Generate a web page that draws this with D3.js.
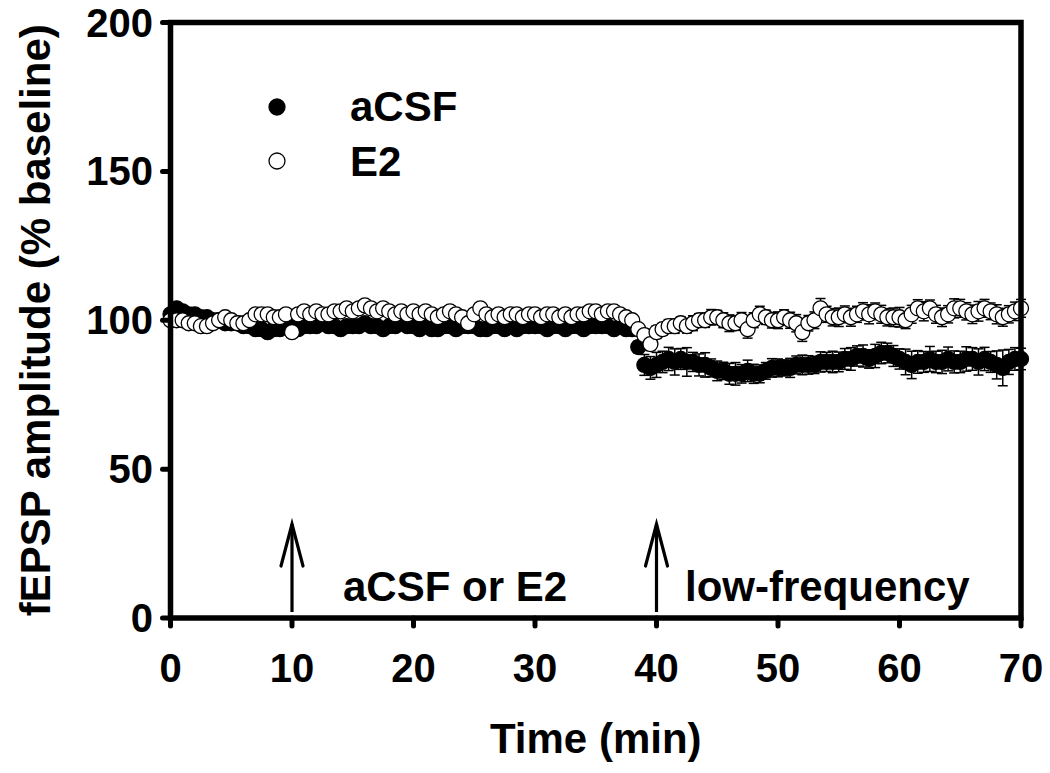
<!DOCTYPE html>
<html lang="en">
<head>
<meta charset="UTF-8">
<title>fEPSP amplitude</title>
<script src="https://d3js.org/d3.v7.min.js"></script>
<style>
    body { margin: 0; background: #fff; }
    text { font-family: Arial, "Liberation Sans", sans-serif; font-weight: bold; fill: #000; }
</style>
</head>
<body>
<script>
    // samples every 30 s, 0..70 min
    const sampleStep = 0.5;

    const acsfMean = [
        102, 104, 103, 102, 102, 101, 101, 100, 100, 99,
        99, 99, 98, 98, 97, 97, 96, 97, 97, 98,
        98, 97, 98, 98, 98, 99, 98, 98, 97, 98,
        98, 98, 99, 98, 98, 97, 98, 98, 99, 98,
        98, 97, 98, 97, 97, 98, 98, 97, 98, 98,
        98, 97, 97, 98, 98, 97, 98, 97, 98, 98,
        98, 98, 97, 98, 98, 97, 98, 98, 97, 98,
        98, 98, 98, 97, 98, 97, 97, 91, 85, 84,
        85, 86, 87, 86, 87, 86, 86, 85, 85, 84,
        83, 83, 82, 82, 82, 83, 82, 82, 83, 84,
        84, 84, 84, 85, 85, 85, 85, 86, 86, 86,
        86, 87, 87, 88, 88, 87, 88, 89, 89, 88,
        87, 86, 85, 86, 86, 87, 86, 86, 87, 86,
        86, 87, 87, 86, 87, 86, 85, 84, 86, 87,
        87
    ];
    const acsfSem = [
        1.5, 1.4, 1.3, 1.2, 1.2, 1.1, 1.0, 1.1, 1.0, 1.0,
        1.0, 1.1, 1.0, 0.9, 1.0, 1.1, 1.0, 1.0, 1.1, 1.0,
        1.0, 0.9, 1.0, 1.1, 1.0, 1.2, 1.0, 1.0, 0.9, 1.0,
        1.1, 1.0, 1.2, 1.0, 1.1, 1.0, 1.0, 0.9, 1.1, 1.0,
        1.0, 1.1, 1.0, 1.0, 0.9, 1.0, 1.1, 1.0, 1.0, 1.1,
        1.0, 1.0, 1.1, 1.0, 0.9, 1.0, 1.0, 1.1, 1.0, 1.0,
        1.1, 1.0, 1.0, 1.0, 1.1, 1.0, 0.9, 1.0, 1.0, 1.1,
        1.0, 1.0, 1.1, 1.0, 1.2, 1.0, 1.2, 2.0, 3.5, 3.8,
        4.2, 3.6, 3.9, 4.4, 3.5, 4.8, 3.2, 3.7, 4.1, 3.0,
        3.3, 2.9, 3.5, 3.8, 3.1, 3.6, 3.2, 3.0, 2.8, 3.1,
        3.0, 2.7, 3.2, 3.0, 3.3, 3.1, 2.9, 3.4, 3.2, 3.6,
        3.3, 3.5, 3.8, 3.4, 3.7, 3.1, 3.9, 3.6, 3.3, 3.5,
        3.4, 4.3, 4.6, 3.8, 3.5, 4.2, 3.6, 3.9, 4.0, 3.7,
        3.6, 4.1, 3.8, 4.4, 3.9, 3.5, 4.7, 6.0, 4.2, 3.8,
        3.6
    ];

    const e2Mean = [
        100, 100, 100, 99, 99, 98, 98, 99, 100, 101,
        100, 99, 99, 100, 102, 102, 102, 101, 101, 102,
        96, 102, 103, 102, 103, 102, 102, 103, 103, 104,
        103, 104, 105, 104, 103, 104, 103, 102, 103, 102,
        103, 102, 103, 102, 101, 102, 103, 102, 101, 99,
        102, 104, 102, 101, 102, 101, 102, 102, 101, 102,
        102, 101, 102, 102, 101, 102, 101, 102, 102, 103,
        103, 102, 103, 103, 102, 101, 100, 97, 95, 92,
        96, 97, 98, 98, 99, 98, 99, 100, 100, 101,
        101, 100, 99, 99, 100, 97, 100, 102, 101, 100,
        100, 101, 100, 99, 96, 99, 100, 104, 102, 101,
        101, 102, 101, 102, 103, 102, 103, 102, 101, 101,
        101, 100, 102, 104, 103, 104, 102, 101, 102, 104,
        104, 103, 102, 103, 104, 103, 102, 101, 102, 103,
        104
    ];
    const e2Sem = [
        1.2, 1.1, 1.0, 1.0, 1.1, 1.0, 0.9, 1.0, 1.0, 1.1,
        1.0, 1.0, 0.9, 1.0, 1.1, 1.0, 1.0, 1.1, 1.0, 1.0,
        1.6, 1.0, 1.1, 1.0, 1.0, 1.1, 1.0, 0.9, 1.0, 1.1,
        1.0, 1.2, 1.1, 1.0, 1.0, 1.1, 1.0, 1.0, 0.9, 1.0,
        1.1, 1.0, 1.0, 1.1, 1.0, 1.0, 1.1, 1.0, 1.0, 1.3,
        1.0, 1.1, 1.0, 1.0, 1.1, 1.0, 0.9, 1.0, 1.0, 1.1,
        1.0, 1.0, 1.1, 1.0, 1.0, 0.9, 1.0, 1.1, 1.0, 1.0,
        1.1, 1.0, 1.0, 1.1, 1.0, 1.2, 1.4, 1.8, 2.0, 2.2,
        2.1, 2.0, 2.2, 2.4, 2.1, 2.3, 2.5, 2.2, 2.4, 2.6,
        2.3, 2.5, 2.8, 2.4, 2.6, 3.0, 2.5, 2.7, 2.4, 2.6,
        2.8, 2.5, 2.7, 2.9, 3.1, 2.6, 2.8, 3.3, 2.7, 2.9,
        3.1, 2.8, 3.0, 2.7, 2.9, 3.2, 2.8, 3.0, 2.9, 3.1,
        3.3, 2.8, 3.0, 2.9, 3.2, 2.8, 3.0, 3.1, 2.9, 3.2,
        3.0, 2.9, 3.1, 3.3, 3.0, 2.8, 3.2, 3.0, 2.9, 3.1,
        3.0
    ];

    const xTicks = [0, 10, 20, 30, 40, 50, 60, 70];
    const yTicks = [0, 50, 100, 150, 200];
    const seriesNames = ["aCSF", "E2"];
    const arrowTimes = [10, 40];
    const arrowLabels = ["aCSF or E2", "low-frequency"];

    const width = 1050, height = 773;
    const margin = {top: 22.5, right: 29, bottom: 155, left: 170.5};

    const svg = d3.select("body").append("svg")
        .attr("width", width)
        .attr("height", height);

    const x = d3.scaleLinear().domain([0, 70]).range([margin.left, width - margin.right]);
    const y = d3.scaleLinear().domain([0, 200]).range([height - margin.bottom, margin.top]);

    const time = acsfMean.map((d, i) => i * sampleStep);

    const series = [
        {name: seriesNames[0], mean: acsfMean, sem: acsfSem, fill: "#000"},
        {name: seriesNames[1], mean: e2Mean, sem: e2Sem, fill: "#fff"}
    ];

    // error bars + markers
    series.forEach(function (s) {
        const pts = s.mean.map((m, i) => ({t: time[i], m: m, e: s.sem[i]}));
        const g = svg.append("g");
        const eb = g.selectAll("g.eb").data(pts).enter().append("g")
            .attr("stroke", "#000").attr("stroke-width", 1.5);
        eb.append("line")
            .attr("x1", d => x(d.t)).attr("x2", d => x(d.t))
            .attr("y1", d => y(d.m - d.e)).attr("y2", d => y(d.m + d.e));
        eb.append("line")
            .attr("x1", d => x(d.t) - 5).attr("x2", d => x(d.t) + 5)
            .attr("y1", d => y(d.m - d.e)).attr("y2", d => y(d.m - d.e));
        eb.append("line")
            .attr("x1", d => x(d.t) - 5).attr("x2", d => x(d.t) + 5)
            .attr("y1", d => y(d.m + d.e)).attr("y2", d => y(d.m + d.e));
        g.selectAll("circle").data(pts).enter().append("circle")
            .attr("cx", d => x(d.t))
            .attr("cy", d => y(d.m))
            .attr("r", 7.5)
            .attr("fill", s.fill)
            .attr("stroke", "#000")
            .attr("stroke-width", 1.3);
    });

    // frame
    const axisW = 5.5;
    svg.append("rect")
        .attr("x", x(0)).attr("y", y(200))
        .attr("width", x(70) - x(0)).attr("height", y(0) - y(200))
        .attr("fill", "none").attr("stroke", "#000").attr("stroke-width", axisW);

    // ticks
    svg.selectAll("line.xt").data(xTicks).enter().append("line")
        .attr("x1", d => x(d)).attr("x2", d => x(d))
        .attr("y1", y(0)).attr("y2", y(0) + 8)
        .attr("stroke", "#000").attr("stroke-width", 5).attr("stroke-linecap", "round");
    svg.selectAll("line.yt").data(yTicks).enter().append("line")
        .attr("x1", x(0) - 8).attr("x2", x(0))
        .attr("y1", d => y(d)).attr("y2", d => y(d))
        .attr("stroke", "#000").attr("stroke-width", 5).attr("stroke-linecap", "round");

    svg.selectAll("text.xl").data(xTicks).enter().append("text")
        .attr("x", d => x(d)).attr("y", 682)
        .attr("text-anchor", "middle").attr("font-size", 40)
        .text(d => d);
    svg.selectAll("text.yl").data(yTicks).enter().append("text")
        .attr("x", 153).attr("y", d => y(d) + 14)
        .attr("text-anchor", "end").attr("font-size", 40)
        .text(d => d);

    // axis titles
    svg.append("text")
        .attr("x", (x(0) + x(70)) / 2).attr("y", 753)
        .attr("text-anchor", "middle").attr("font-size", 42)
        .text("Time (min)");
    svg.append("text")
        .attr("transform", "translate(50," + (y(100)) + ") rotate(-90)")
        .attr("text-anchor", "middle").attr("font-size", 42)
        .text("fEPSP amplitude (% baseline)");

    // legend
    const lg = svg.append("g");
    series.forEach(function (s, i) {
        lg.append("circle")
            .attr("cx", 277).attr("cy", 107 + i * 54)
            .attr("r", 8)
            .attr("fill", s.fill).attr("stroke", "#000").attr("stroke-width", 1.3);
        lg.append("text")
            .attr("x", 350).attr("y", 121 + i * 55)
            .attr("font-size", 42)
            .text(s.name);
    });

    // arrows
    const labelX = [343, 685];
    arrowTimes.forEach(function (t, i) {
        const ax = x(t);
        svg.append("line")
            .attr("x1", ax).attr("x2", ax).attr("y1", 524).attr("y2", 612)
            .attr("stroke", "#000").attr("stroke-width", 3.2);
        svg.append("path")
            .attr("d", "M" + (ax - 11) + ",566 L" + ax + ",524 L" + (ax + 11) + ",566")
            .attr("fill", "none").attr("stroke", "#000").attr("stroke-width", 3.2)
            .attr("stroke-linecap", "round").attr("stroke-linejoin", "miter");
        svg.append("text")
            .attr("x", labelX[i]).attr("y", 601)
            .attr("font-size", 42)
            .text(arrowLabels[i]);
    });
</script>
</body>
</html>
